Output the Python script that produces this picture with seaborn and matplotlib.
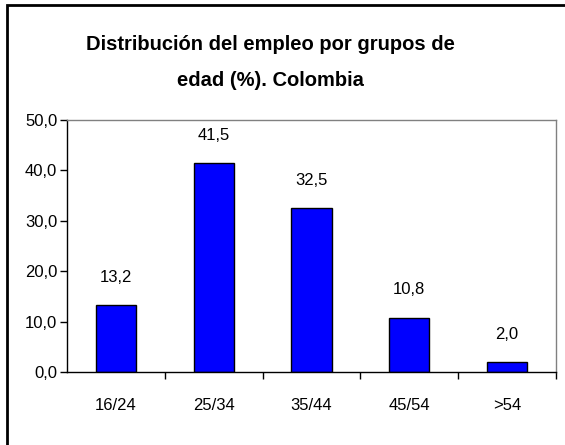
import matplotlib
matplotlib.use("Agg")
import matplotlib.pyplot as plt
from matplotlib.patches import Rectangle
from matplotlib.ticker import FixedLocator, FuncFormatter
import seaborn as sns
import pandas as pd

grupos = ["16/24", "25/34", "35/44", "45/54", ">54"]
porcentajes = [13.2, 41.5, 32.5, 10.8, 2.0]
y_ticks = [0, 10, 20, 30, 40, 50]

sns.set_style("white")
plt.rcParams["font.family"] = ["Liberation Sans", "DejaVu Sans"]
plt.rcParams["text.color"] = "black"
plt.rcParams["xtick.color"] = "black"
plt.rcParams["ytick.color"] = "black"
plt.rcParams["axes.labelcolor"] = "black"

df = pd.DataFrame({"grupo": grupos, "pct": porcentajes})

fig = plt.figure(figsize=(5.65, 4.45), dpi=100)
ax = fig.add_axes([67 / 565, 1 - 372 / 445, (556 - 67) / 565, (372 - 120) / 445])

sns.barplot(data=df, x="grupo", y="pct", color="#0000FF", edgecolor="black",
            linewidth=1.0, width=0.41, saturation=1, ax=ax)

ax.set_xlim(-0.5, len(grupos) - 0.5)
ax.set_ylim(0, 50)
ax.set_xlabel("")
ax.set_ylabel("")

ax.yaxis.set_major_locator(FixedLocator(y_ticks))
ax.yaxis.set_major_formatter(FuncFormatter(lambda v, p: f"{v:.1f}".replace(".", ",")))
ax.tick_params(axis="y", direction="out", length=5, width=1, color="black",
               labelcolor="black", labelsize=12, pad=2, left=True)
ax.set_xticks(range(len(grupos)))
ax.set_xticklabels(grupos)
ax.tick_params(axis="x", length=0, labelsize=12, labelcolor="black", pad=19)
ax.xaxis.set_minor_locator(FixedLocator([i + 0.5 for i in range(len(grupos))]))
ax.tick_params(axis="x", which="minor", direction="out", length=5, width=1,
               color="black", bottom=True)

for side in ("left", "bottom"):
    ax.spines[side].set_color("black")
    ax.spines[side].set_linewidth(1.0)
for side in ("top", "right"):
    ax.spines[side].set_visible(True)
    ax.spines[side].set_color("#808080")
    ax.spines[side].set_linewidth(1.0)

for i, v in enumerate(porcentajes):
    ax.text(i, v + 5.5, f"{v:.1f}".replace(".", ","), ha="center", va="center",
            fontsize=12, color="black")

title_x = 270 / 565
fig.text(title_x, 1 - 45 / 445, "Distribución del empleo por grupos de",
         ha="center", va="center", fontsize=14.5, fontweight="bold", color="black")
fig.text(title_x, 1 - 80 / 445, "edad (%). Colombia",
         ha="center", va="center", fontsize=14.5, fontweight="bold", color="black")

fig.patches.append(Rectangle((6.5 / 565, -0.1), 1.2, 1.1 - 5.5 / 445,
                             transform=fig.transFigure, fill=False,
                             edgecolor="black", linewidth=2))

fig.savefig("out.png", dpi=100, facecolor="white")
